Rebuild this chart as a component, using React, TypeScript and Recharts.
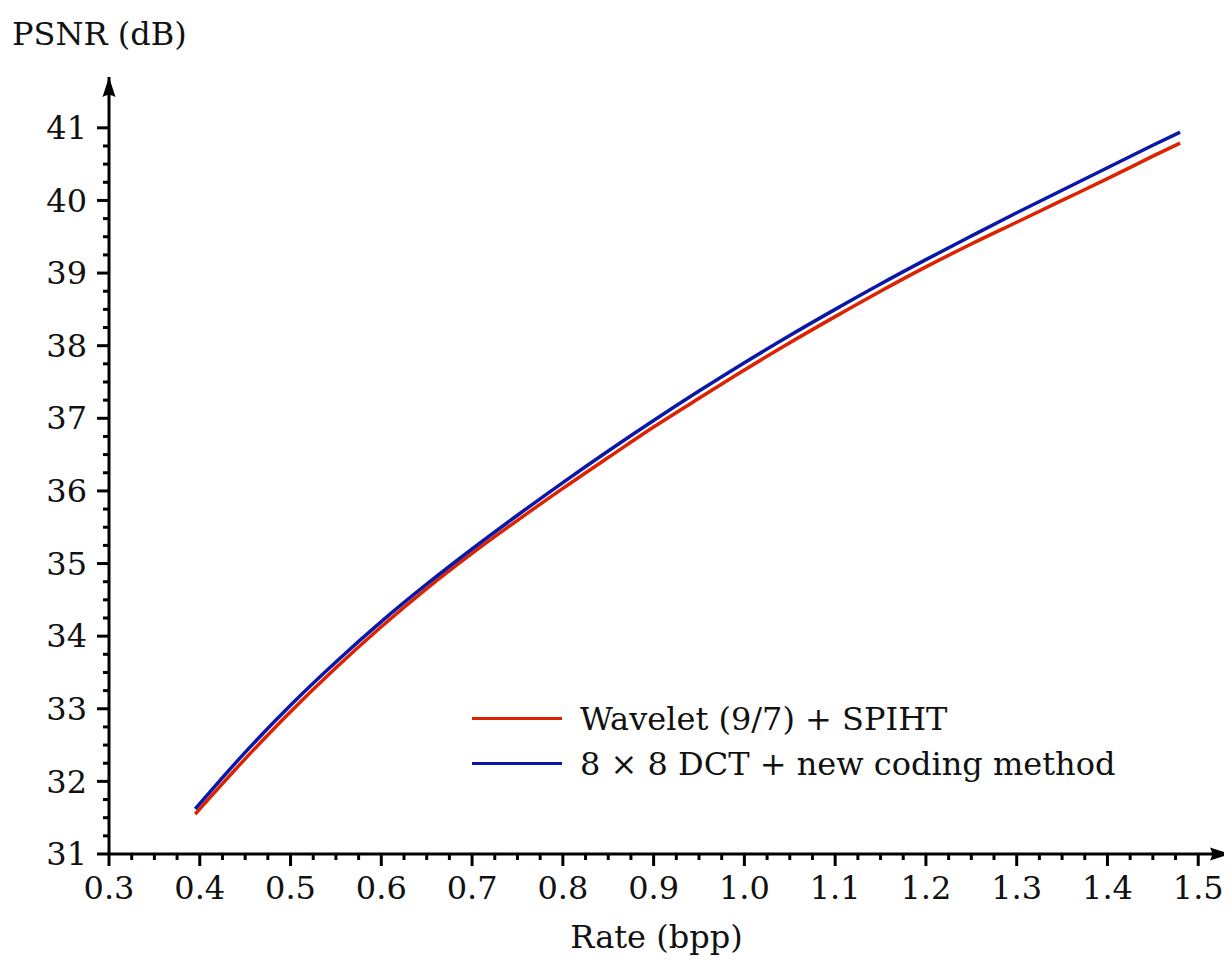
import React from 'react';
import { LineChart, Line, XAxis, YAxis, Legend, ReferenceDot } from 'recharts';

const rates = [0.395, 0.45, 0.5, 0.55, 0.6, 0.65, 0.7, 0.75, 0.8, 0.85, 0.9, 0.95, 1.0, 1.05, 1.1, 1.15, 1.2, 1.25, 1.3, 1.35, 1.4, 1.45, 1.48];
const waveletPsnr = [31.55, 32.31, 32.96, 33.565, 34.13, 34.655, 35.14, 35.595, 36.035, 36.46, 36.88, 37.275, 37.665, 38.04, 38.4, 38.75, 39.085, 39.4, 39.7, 40.0, 40.3, 40.61, 40.79];
const dctPsnr = [31.62, 32.4, 33.05, 33.645, 34.2, 34.715, 35.2, 35.665, 36.115, 36.55, 36.97, 37.375, 37.765, 38.14, 38.5, 38.85, 39.185, 39.51, 39.83, 40.14, 40.45, 40.76, 40.94];

const seriesNames = ['Wavelet (9/7) + SPIHT', '8 \u00d7 8 DCT + new coding method'];
const seriesKeys = ['wavelet', 'dct'];
const seriesColors = ['#dd2200', '#0a18a8'];

const xAxisTitle = 'Rate (bpp)';
const yAxisTitle = 'PSNR (dB)';

const xMajorTicks = [0.3, 0.4, 0.5, 0.6, 0.7, 0.8, 0.9, 1.0, 1.1, 1.2, 1.3, 1.4, 1.5];
const yMajorTicks = [31, 32, 33, 34, 35, 36, 37, 38, 39, 40, 41];

const data = rates.map((r, i) => ({ rate: r, wavelet: waveletPsnr[i], dct: dctPsnr[i] }));

// minor ticks: 4 subdivisions between majors
const xTicks: number[] = [];
for (let i = 0; i < xMajorTicks.length - 1; i++) {
  const a = xMajorTicks[i];
  const b = xMajorTicks[i + 1];
  for (let k = 0; k < 4; k++) xTicks.push(Math.round((a + ((b - a) * k) / 4) * 1000) / 1000);
}
xTicks.push(xMajorTicks[xMajorTicks.length - 1]);
const yTicks: number[] = [];
for (let i = 0; i < yMajorTicks.length - 1; i++) {
  const a = yMajorTicks[i];
  const b = yMajorTicks[i + 1];
  for (let k = 0; k < 4; k++) yTicks.push(Math.round((a + ((b - a) * k) / 4) * 1000) / 1000);
}
yTicks.push(yMajorTicks[yMajorTicks.length - 1]);

const FONT = '"DejaVu Serif", "Liberation Serif", serif';
const FS = 32;

const isMajor = (v: number, list: number[]) => list.some((m) => Math.abs(m - v) < 1e-6);

const XTick = (props: any) => {
  const { x, y, payload } = props;
  const v = payload.value as number;
  const major = isMajor(v, xMajorTicks);
  return (
    <g>
      <line x1={x} y1={y} x2={x} y2={y + (major ? 12 : 6)} stroke="#000" strokeWidth={3} />
      {major && (
        <text x={x} y={y + 34} dy="0.35em" textAnchor="middle" fontFamily={FONT} fontSize={FS} fill="#111">
          {v.toFixed(1)}
        </text>
      )}
    </g>
  );
};

const YTick = (props: any) => {
  const { x, y, payload } = props;
  const v = payload.value as number;
  const major = isMajor(v, yMajorTicks);
  return (
    <g>
      <line x1={x} y1={y} x2={x - (major ? 12 : 6)} y2={y} stroke="#000" strokeWidth={3} />
      {major && (
        <text x={x - 22} y={y} dy="0.35em" textAnchor="end" fontFamily={FONT} fontSize={FS} fill="#111">
          {String(v)}
        </text>
      )}
    </g>
  );
};

const UpArrow = (props: any) => {
  const { cx, cy } = props;
  return (
    <path
      d={`M ${cx} ${cy} L ${cx + 6.5} ${cy + 20} Q ${cx} ${cy + 16} ${cx - 6.5} ${cy + 20} Z`}
      fill="#000"
    />
  );
};

const RightArrow = (props: any) => {
  const { cx, cy } = props;
  return (
    <path
      d={`M ${cx} ${cy} L ${cx - 20} ${cy - 6.5} Q ${cx - 16} ${cy} ${cx - 20} ${cy + 6.5} Z`}
      fill="#000"
    />
  );
};

const LegendBox = () => (
  <div style={{ fontFamily: FONT, fontSize: FS, color: '#111' }}>
    {seriesNames.map((n, i) => (
      <div key={n} style={{ display: 'flex', alignItems: 'center', height: 45, whiteSpace: 'nowrap' }}>
        <span style={{ display: 'inline-block', width: 90, height: 3, background: seriesColors[i], marginRight: 18 }} />
        <span>{n}</span>
      </div>
    ))}
  </div>
);

export default function App() {
  return (
    <div style={{ width: 1224, height: 956, position: 'relative' }}>
      <LineChart width={1224} height={956} data={data} margin={{ top: 69, right: 2, bottom: 50, left: 41 }}>
        <XAxis
          dataKey="rate"
          type="number"
          domain={[0.3, 1.535]}
          ticks={xTicks}
          interval={0}
          allowDataOverflow
          tickLine={false}
          tickSize={0}
          tickMargin={0}
          axisLine={{ stroke: '#000', strokeWidth: 3 }}
          height={60}
          tick={<XTick />}
          label={(p: any) => {
            const vb = p.viewBox || {};
            return (
              <text x={vb.x + vb.width / 2 - 13} y={940} textAnchor="middle" fontFamily={FONT} fontSize={FS} fill="#111">
                {xAxisTitle}
              </text>
            );
          }}
        />
        <YAxis
          type="number"
          domain={[31, 41.7]}
          ticks={yTicks}
          interval={0}
          allowDataOverflow
          tickLine={false}
          tickSize={0}
          tickMargin={0}
          axisLine={{ stroke: '#000', strokeWidth: 3 }}
          width={60}
          tick={<YTick />}
          label={() => (
            <text x={4} y={37} textAnchor="start" fontFamily={FONT} fontSize={FS} fill="#111">
              {yAxisTitle}
            </text>
          )}
        />
        <Line type="monotone" dataKey={seriesKeys[0]} name={seriesNames[0]} stroke={seriesColors[0]} strokeWidth={3.5} dot={false} isAnimationActive={false} />
        <Line type="monotone" dataKey={seriesKeys[1]} name={seriesNames[1]} stroke={seriesColors[1]} strokeWidth={3.5} dot={false} isAnimationActive={false} />
        <ReferenceDot x={0.3} y={41.7} r={0} ifOverflow="visible" shape={<UpArrow />} />
        <ReferenceDot x={1.535} y={31} r={0} ifOverflow="visible" shape={<RightArrow />} />
        <Legend
          layout="horizontal"
          verticalAlign="middle"
          align="center"
          content={() => <LegendBox />}
          wrapperStyle={{ position: 'absolute', left: 464, top: 688, width: 'auto', bottom: 'auto' }}
        />
      </LineChart>
    </div>
  );
}
